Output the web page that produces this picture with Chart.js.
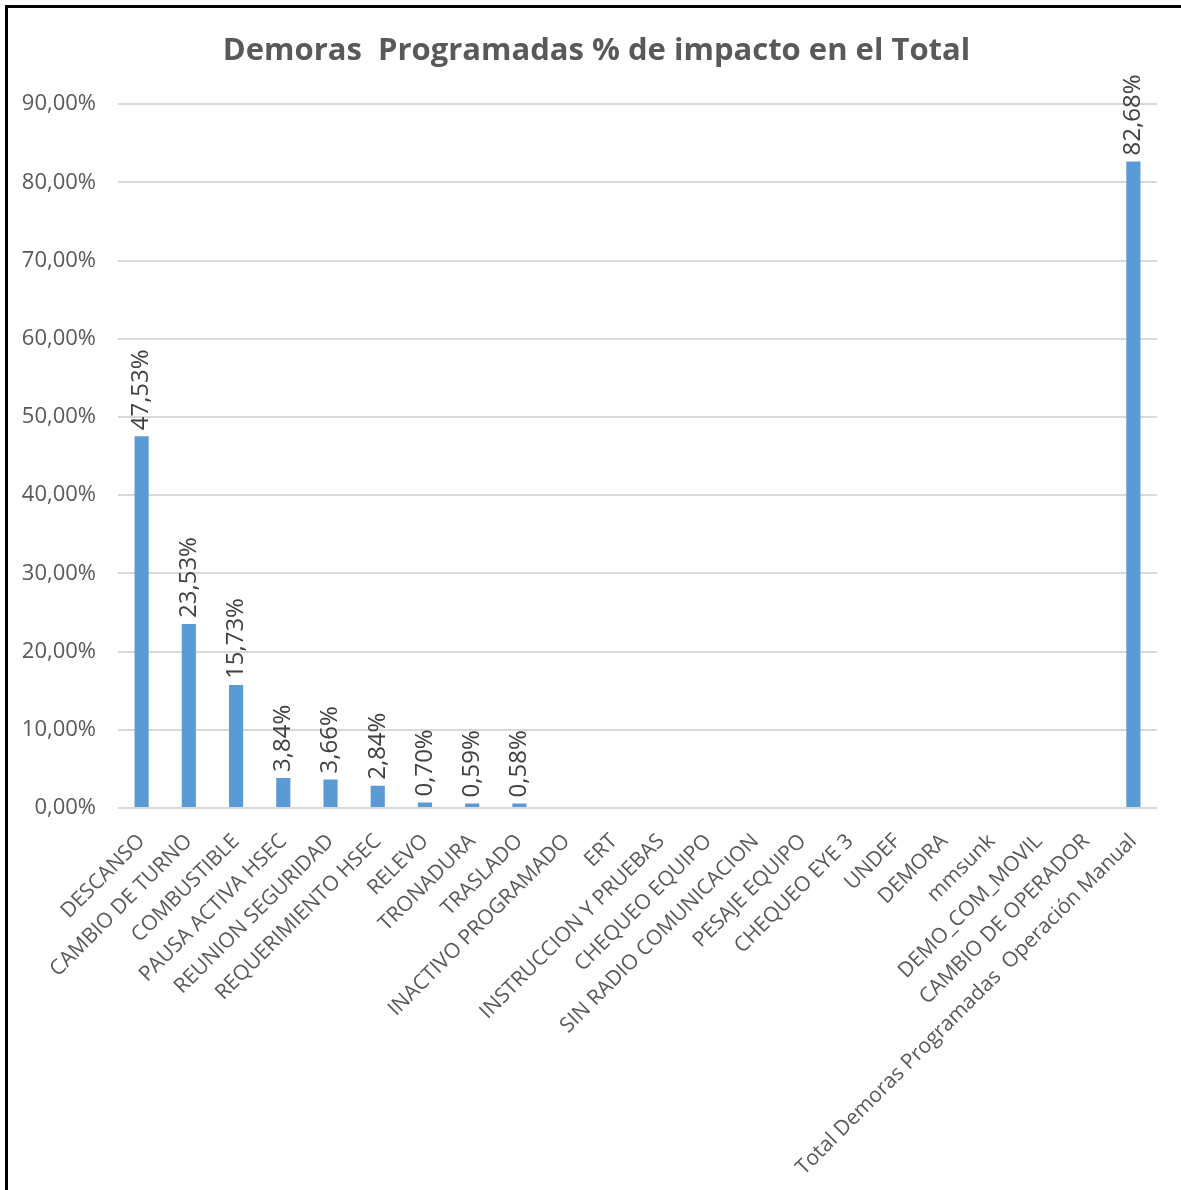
<!DOCTYPE html>
<html>
<head>
<meta charset="utf-8">
<script src="https://cdn.jsdelivr.net/npm/chart.js@4"></script>
<style>
  html, body { margin: 0; padding: 0; background: #fff; overflow: hidden; }
  canvas { display: block; }
</style>
</head>
<body>
<canvas id="c" width="1181" height="1190"></canvas>
<script>
const categories = [
  "DESCANSO", "CAMBIO DE TURNO", "COMBUSTIBLE", "PAUSA ACTIVA HSEC",
  "REUNION SEGURIDAD", "REQUERIMIENTO HSEC", "RELEVO", "TRONADURA",
  "TRASLADO", "INACTIVO PROGRAMADO", "ERT", "INSTRUCCION Y PRUEBAS",
  "CHEQUEO EQUIPO", "SIN RADIO COMUNICACION", "PESAJE EQUIPO",
  "CHEQUEO EYE 3", "UNDEF", "DEMORA", "mmsunk", "DEMO_COM_MOVIL",
  "CAMBIO DE OPERADOR", "Total Demoras Programadas  Operación Manual"
];
const impactPct = [
  47.53, 23.53, 15.73, 3.84, 3.66, 2.84, 0.70, 0.59, 0.58,
  0, 0, 0, 0, 0, 0, 0, 0, 0, 0, 0, 0,
  82.68
];
const yTicks = [0, 10, 20, 30, 40, 50, 60, 70, 80, 90];

const fmtPct = v => v.toFixed(2).replace('.', ',') + '%';

// Black frame along the top and left edges, plus a small title offset
const chartFrame = {
  id: 'chartFrame',
  afterLayout(chart) {
    if (chart.titleBlock) chart.titleBlock.left += 36;
  },
  afterDraw(chart) {
    const ctx = chart.ctx;
    ctx.save();
    ctx.fillStyle = '#000';
    ctx.fillRect(5, 5, chart.width, 3);
    ctx.fillRect(5, 5, 3, chart.height);
    ctx.restore();
  }
};

// Vertical value labels above each non-zero bar
const barValueLabels = {
  id: 'barValueLabels',
  afterDatasetsDraw(chart) {
    const ctx = chart.ctx;
    const meta = chart.getDatasetMeta(0);
    const data = chart.data.datasets[0].data;
    ctx.save();
    ctx.font = '24px "Open Sans"';
    ctx.fillStyle = '#404040';
    ctx.textAlign = 'left';
    ctx.textBaseline = 'middle';
    meta.data.forEach((bar, i) => {
      const v = data[i];
      if (!v) return;
      ctx.save();
      ctx.translate(bar.x, bar.y - 6);
      ctx.rotate(-Math.PI / 2);
      ctx.fillText(fmtPct(v), 0, 0);
      ctx.restore();
    });
    ctx.restore();
  }
};

new Chart(document.getElementById('c'), {
  type: 'bar',
  data: {
    labels: categories,
    datasets: [{
      data: impactPct,
      backgroundColor: '#5b9bd5',
      barPercentage: 0.3,
      categoryPercentage: 1.0
    }]
  },
  options: {
    responsive: false,
    animation: false,
    layout: { padding: { left: 0, right: 24, top: 0, bottom: 0 } },
    plugins: {
      legend: { display: false },
      tooltip: { enabled: false },
      title: {
        display: true,
        text: 'Demoras  Programadas % de impacto en el Total',
        color: '#595959',
        font: { family: '"Open Sans"', size: 31, weight: 'bold' },
        padding: { top: 33, bottom: 34 }
      }
    },
    scales: {
      x: {
        grid: { display: false },
        border: { display: false },
        ticks: {
          autoSkip: false,
          minRotation: 45,
          maxRotation: 45,
          color: '#595959',
          font: { family: '"Open Sans"', size: 21 },
          padding: 13
        },
        afterFit(axis) { axis.height = 382; }
      },
      y: {
        min: 0,
        max: 90,
        afterBuildTicks(axis) { axis.ticks = yTicks.map(v => ({ value: v })); },
        grid: { color: '#d9d9d9', lineWidth: 2, drawTicks: false },
        border: { display: false },
        ticks: {
          color: '#595959',
          font: { family: '"Open Sans"', size: 22 },
          padding: 22,
          callback: v => fmtPct(v)
        },
        afterFit(axis) { axis.width = 118; }
      }
    }
  },
  plugins: [barValueLabels, chartFrame]
});
</script>
</body>
</html>
